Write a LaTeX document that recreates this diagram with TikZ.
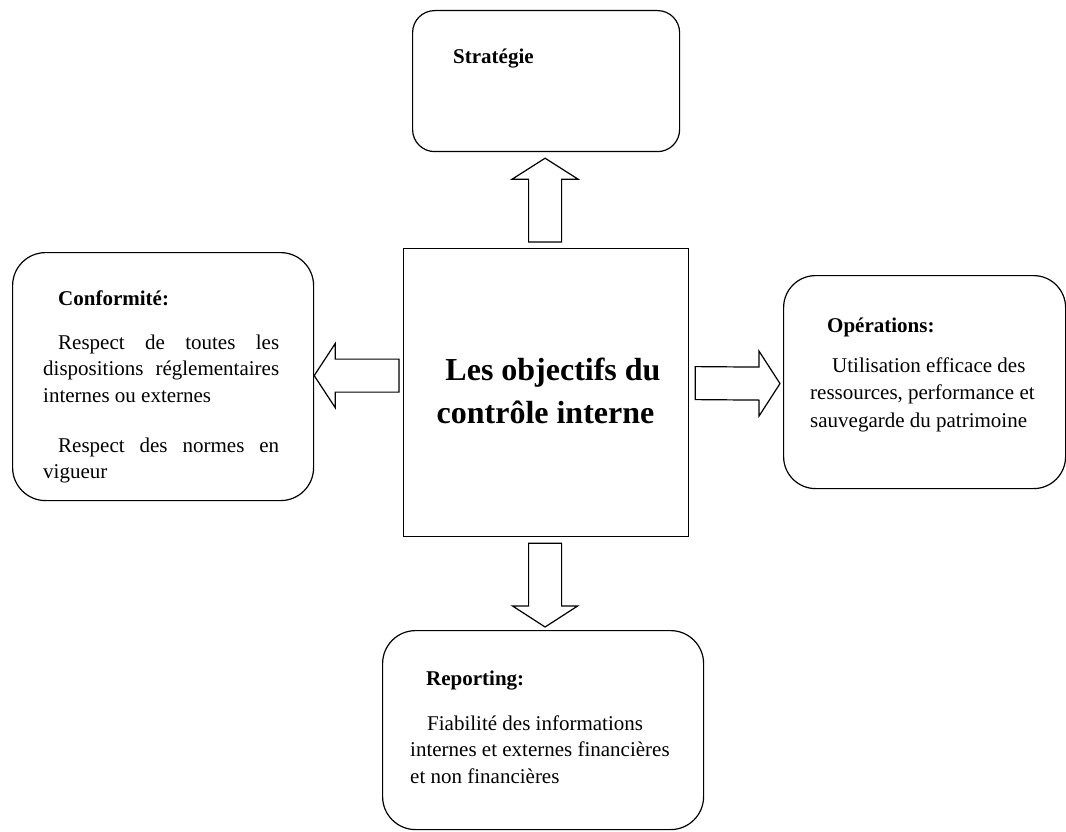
\documentclass[tikz,border=0pt]{standalone}
\usepackage{fontspec}
\setmainfont{Liberation Serif}
\usetikzlibrary{calc}
\begin{document}
\begin{tikzpicture}[x=1pt,y=-1pt,
  box/.style={draw, line width=1.2pt, inner sep=0pt, anchor=north west},
  barrow/.style={draw, fill=white, line width=1.2pt, line join=miter},
  head/.style={anchor=base west, inner sep=0pt, font=\fontsize{21}{26.5}\selectfont\bfseries},
  body/.style={anchor=base west, inner sep=0pt, align=left},
]
\useasboundingbox (0,0) rectangle (1066,832);

% central box
\node[box, minimum width=285pt, minimum height=288pt] (c) at (403,248) {};
% multi-line nodes are anchored at the baseline of their last line
\node[anchor=base, inner sep=0pt, align=center,
      font=\fontsize{32}{43}\selectfont\bfseries] (title) at (545.5,423)
  {\hspace*{15pt}Les objectifs du\\contrôle interne};

% surrounding boxes
\node[box, rounded corners=22pt, minimum width=267pt, minimum height=141pt] (strat) at (412,10) {};
\node[box, rounded corners=33pt, minimum width=301pt, minimum height=248pt] (conf) at (12,252) {};
\node[box, rounded corners=32pt, minimum width=282pt, minimum height=213pt] (ops) at (783,275) {};
\node[box, rounded corners=33pt, minimum width=321pt, minimum height=199pt] (rep) at (382,630) {};

% headings
\node[head] (stratT) at (453,64) {Stratégie};
\node[head] (confT) at (58,305) {Conformité:};
\node[head] (opsT) at (827,332) {Opérations:};
\node[head] (repT) at (426,685) {Reporting:};

% box texts
\node[body, font=\fontsize{21}{26.5}\selectfont] (confB) at (43,478.5)
  {\hspace*{15pt}\makebox[221pt][s]{Respect de toutes les}\\
   \makebox[236pt][s]{dispositions réglementaires}\\
   internes ou externes\\[23.5pt]
   \hspace*{15pt}\makebox[221pt][s]{Respect des normes en}\\
   vigueur};
\node[body, font=\fontsize{21}{27.5}\selectfont] (opsB) at (810,427)
  {\hspace*{22pt}Utilisation efficace des\\
   ressources, performance et\\
   sauvegarde du patrimoine};
\node[body, font=\fontsize{21}{26.5}\selectfont] (repB) at (410,783)
  {\hspace*{17pt}Fiabilité des informations\\
   internes et externes financières\\
   et non financières};

% block arrows: base and tip points
\coordinate (upB) at ($(c.north)+(-1,-6)$);
\coordinate (upT) at ($(strat.south)+(-1,6)$);
\coordinate (dnB) at ($(c.south)+(-1,6)$);
\coordinate (dnT) at ($(rep.north)+(2,-3)$);
\coordinate (lfB) at ($(c.west)+(-4,-17)$);
\coordinate (lfT) at ($(conf.east)+(0,-1)$);
\coordinate (rtB) at ($(c.east)+(6,-9.5)$);
\coordinate (rtT) at ($(ops.west)+(-3,1.5)$);

\draw[barrow] ($(upB)+(-16.5,0)$) -- ($(upT)+(-16.5,21)$) -- ($(upT)+(-33,21)$) -- (upT)
  -- ($(upT)+(33,21)$) -- ($(upT)+(16.5,21)$) -- ($(upB)+(16.5,0)$) -- cycle;
\draw[barrow] ($(dnB)+(-16.5,0)$) -- ($(dnT)+(-16.5,-21)$) -- ($(dnT)+(-32.5,-21)$) -- (dnT)
  -- ($(dnT)+(32.5,-21)$) -- ($(dnT)+(16.5,-21)$) -- ($(dnB)+(16.5,0)$) -- cycle;
\draw[barrow] ($(lfB)+(0,-16.5)$) -- ($(lfT)+(21,-16.5)$) -- ($(lfT)+(21,-32)$) -- (lfT)
  -- ($(lfT)+(21,32)$) -- ($(lfT)+(21,16.5)$) -- ($(lfB)+(0,16.5)$) -- cycle;
\draw[barrow] ($(rtB)+(0,-16.5)$) -- ($(rtT)+(-21,-16.5)$) -- ($(rtT)+(-21,-32.5)$) -- (rtT)
  -- ($(rtT)+(-21,32.5)$) -- ($(rtT)+(-21,16.5)$) -- ($(rtB)+(0,16.5)$) -- cycle;
\end{tikzpicture}
\end{document}
